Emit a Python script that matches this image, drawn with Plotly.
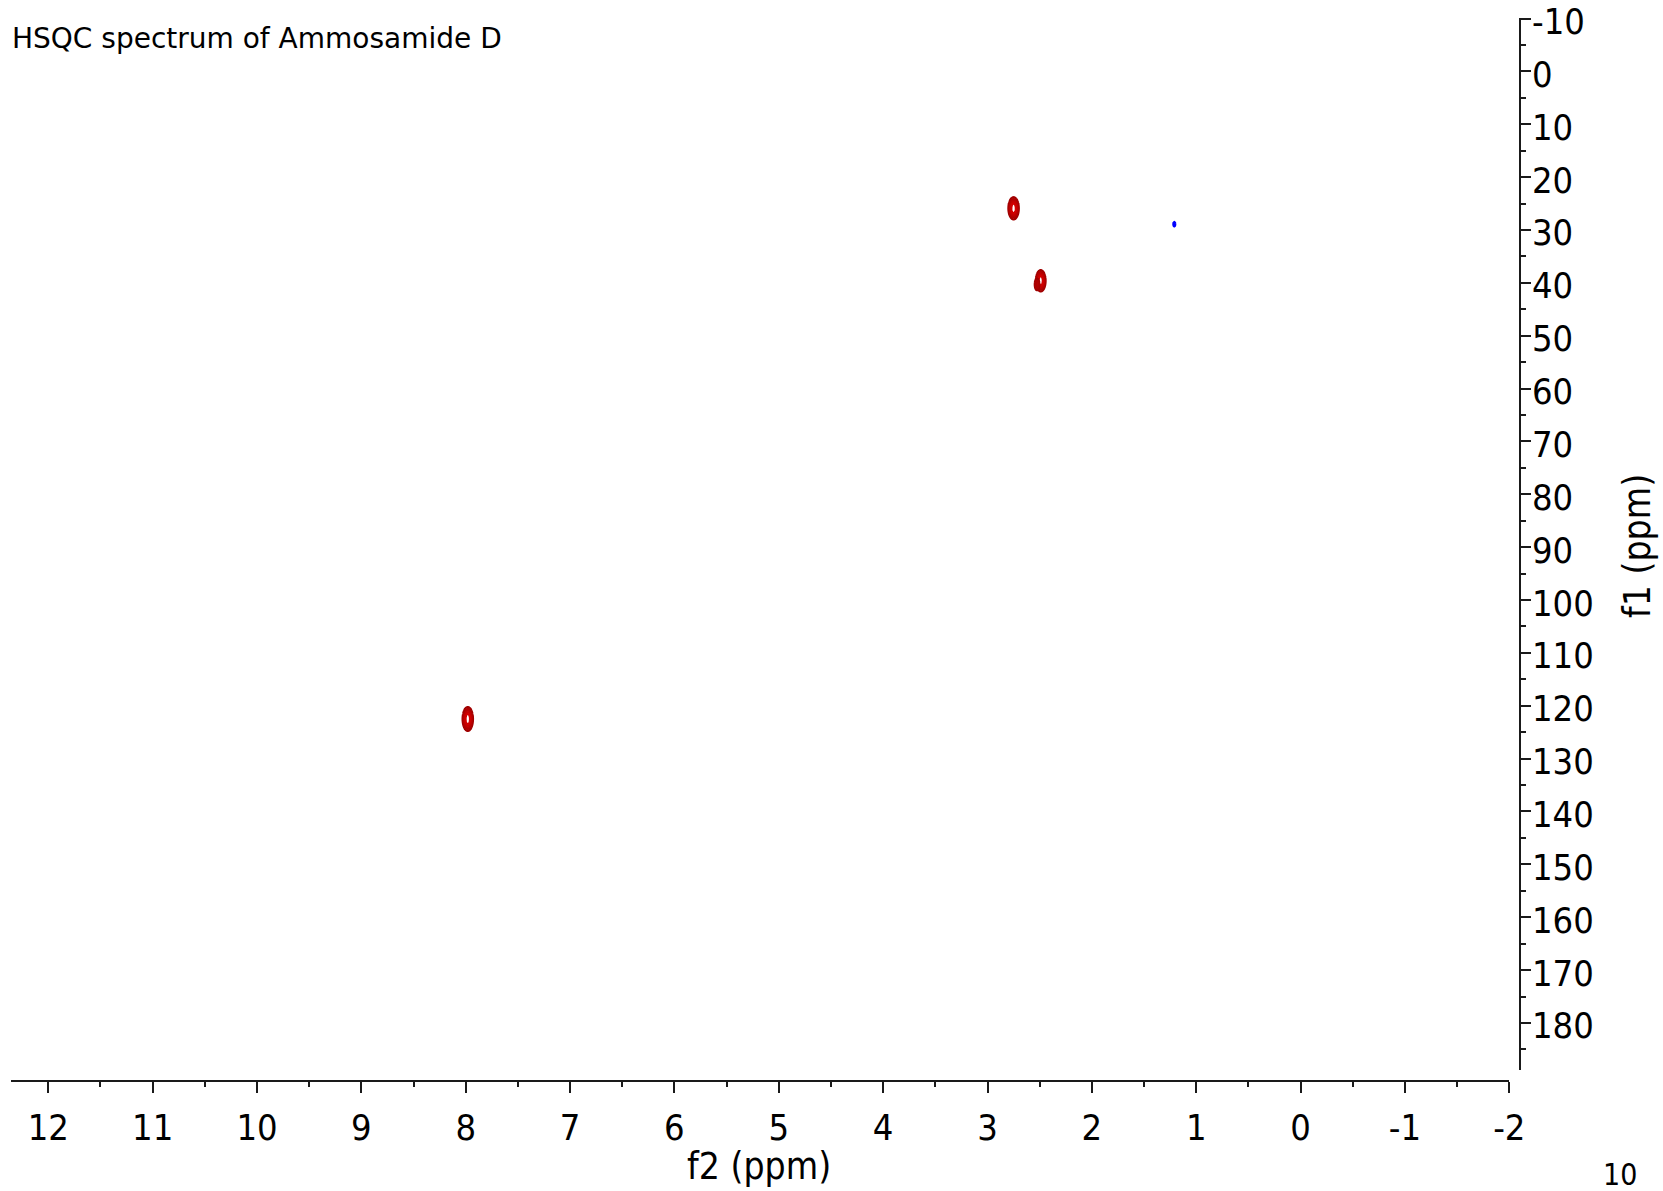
import numpy as np
import plotly.graph_objects as go

# ---- data ----
title_text = "HSQC spectrum of Ammosamide D"
x_title = "f2 (ppm)"
y_title = "f1 (ppm)"
corner_text = "10"

x_tick_vals = [12, 11, 10, 9, 8, 7, 6, 5, 4, 3, 2, 1, 0, -1, -2]
y_tick_vals = [-10, 0, 10, 20, 30, 40, 50, 60, 70, 80, 90, 100, 110, 120, 130, 140, 150, 160, 170, 180]

# cross peaks: 1H shift (f2), 13C shift (f1), relative height, sign
peak_f2 = [2.75, 2.49, 2.525, 7.98, 1.21]
peak_f1 = [25.9, 39.6, 40.3, 122.5, 28.9]
peak_amp = [1.0, 1.0, 0.55, 1.0, 0.40]
peak_sign = [1, 1, 1, 1, -1]
# line widths (ppm) of each peak
peak_w2 = [0.032, 0.030, 0.020, 0.032, 0.012]
peak_w1 = [1.35, 1.30, 1.0, 1.45, 0.55]

X_RANGE = [12.357, -2.0]
Y_RANGE = [188.9, -10.1]

# ---- layout geometry (pixels) ----
W, H = 1663, 1191
L, R, T, B = 11, 143, 18, 110
PW = W - L - R
PH = H - T - B

def px(x):
    return (x - L) / PW

def py(y):
    return (H - B - y) / PH

FONT = "DejaVu Sans Condensed, DejaVu Sans, sans-serif"
TFONT = "DejaVu Sans, Verdana, sans-serif"
AX_COLOR = "#1a1a1a"

fig = go.Figure()

pos_scale = [[0, "#a00000"], [1, "#d00000"]]
neg_scale = [[0, "#0000ff"], [1, "#0000ff"]]

for f2, f1, a, s, w2, w1 in zip(peak_f2, peak_f1, peak_amp, peak_sign, peak_w2, peak_w1):
    gx = np.linspace(f2 - 5 * w2, f2 + 5 * w2, 81)
    gy = np.linspace(f1 - 5 * w1, f1 + 5 * w1, 81)
    XX, YY = np.meshgrid(gx, gy)
    Z = a * np.exp(-0.5 * ((XX - f2) / w2) ** 2 - 0.5 * ((YY - f1) / w1) ** 2)
    fig.add_trace(go.Contour(
        x=gx, y=gy, z=Z,
        contours=dict(start=0.3, end=0.8, size=0.125, coloring="lines"),
        colorscale=pos_scale if s > 0 else neg_scale,
        zmin=0.3, zmax=0.8,
        line=dict(width=2.2),
        showscale=False,
        hoverinfo="skip",
    ))

x_dom_end = px(1509.3)
y_dom_start = py(1070)

annotations = [
    dict(text=title_text, xref="paper", yref="paper", x=px(10), y=py(39),
         xanchor="left", yanchor="middle", showarrow=False,
         font=dict(size=28, family=TFONT, color="black")),
    dict(text=x_title, xref="paper", yref="paper", x=px(759), y=py(1166),
         xanchor="center", yanchor="middle", showarrow=False,
         font=dict(size=37, family=FONT, color="black")),
    dict(text=y_title, xref="paper", yref="paper", x=px(1637), y=py(546),
         xanchor="center", yanchor="middle", showarrow=False, textangle=-90,
         font=dict(size=37, family=FONT, color="black")),
    dict(text=corner_text, xref="paper", yref="paper", x=px(1620), y=py(1174),
         xanchor="center", yanchor="middle", showarrow=False,
         font=dict(size=30, family=FONT, color="black")),
]
# y tick labels (sit slightly below their ticks, as in the reference)
for v in y_tick_vals:
    annotations.append(dict(
        text=str(v), xref="paper", yref="y", x=1, y=v,
        xanchor="left", yanchor="middle", xshift=10, yshift=-3,
        showarrow=False, font=dict(size=36, family=FONT, color="black"),
    ))

fig.update_layout(
    width=W, height=H, autosize=False,
    margin=dict(l=L, r=R, t=T, b=B, pad=0, autoexpand=False),
    paper_bgcolor="white", plot_bgcolor="white",
    font=dict(family=FONT, color="black"),
    showlegend=False,
    xaxis=dict(
        domain=[0, x_dom_end], range=X_RANGE, anchor="free", position=0, automargin=False,
        showgrid=False, zeroline=False, showline=True, linecolor=AX_COLOR, linewidth=1.5,
        tickmode="array", tickvals=x_tick_vals, ticktext=[str(v) for v in x_tick_vals],
        ticks="outside", ticklen=11, tickwidth=1.5, tickcolor=AX_COLOR,
        tickfont=dict(size=36, family=FONT, color="black"),
        ticklabelstandoff=4, ticklabeloverflow="allow",
        minor=dict(tickvals=[v + 0.5 for v in x_tick_vals[1:]], ticks="outside", ticklen=5,
                   tickwidth=1.5, tickcolor=AX_COLOR, showgrid=False),
    ),
    yaxis=dict(
        domain=[y_dom_start, 1], range=Y_RANGE, anchor="free", position=1, side="right",
        automargin=False,
        showgrid=False, zeroline=False, showline=True, linecolor=AX_COLOR, linewidth=1.5,
        tickmode="array", tickvals=y_tick_vals, showticklabels=False,
        ticks="outside", ticklen=10, tickwidth=1.5, tickcolor=AX_COLOR,
        minor=dict(tickvals=[v + 5 for v in y_tick_vals], ticks="outside", ticklen=5,
                   tickwidth=1.5, tickcolor=AX_COLOR, showgrid=False),
    ),
    annotations=annotations,
)

fig.write_html("out.html")
